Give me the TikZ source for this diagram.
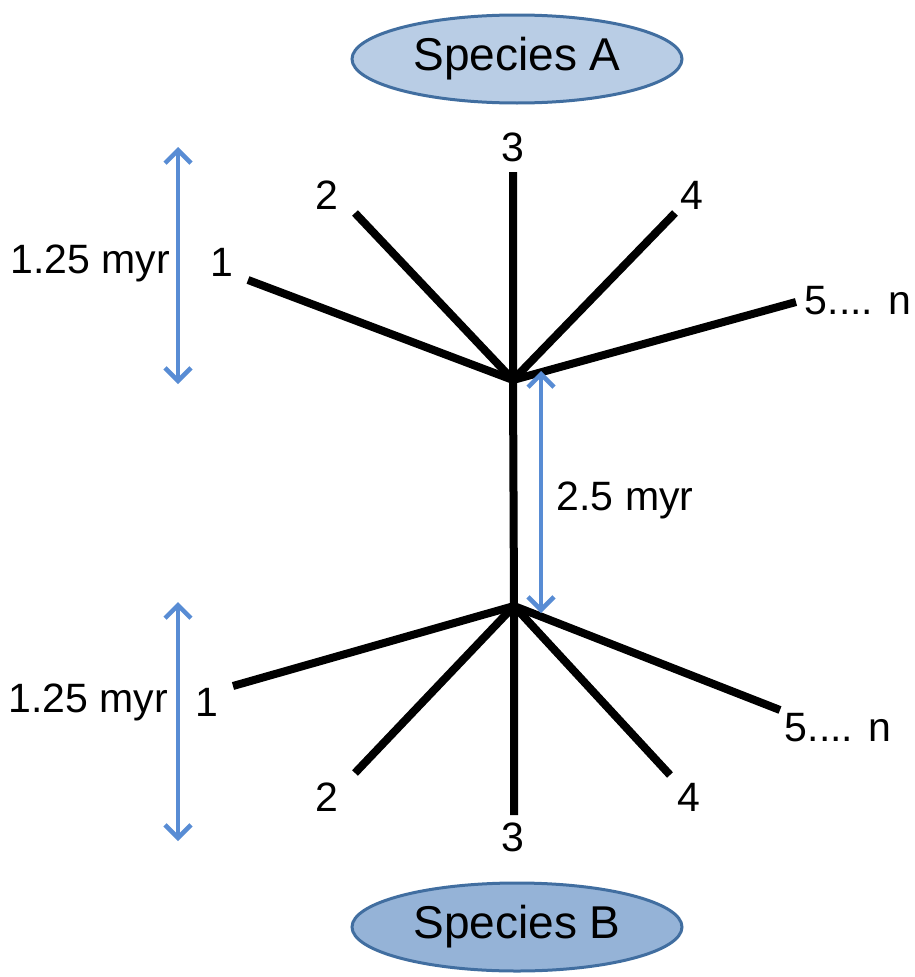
\documentclass[tikz,border=0pt]{standalone}
\usepackage{fontspec}
\setmainfont{Liberation Sans}
\usetikzlibrary{arrows.meta,shapes.geometric}
\definecolor{arrowblue}{RGB}{88,140,212}
\definecolor{fillA}{RGB}{185,205,229}
\definecolor{fillB}{RGB}{149,179,215}
\definecolor{edgeblue}{RGB}{65,110,160}
\tikzset{
  branch/.style={line width=8pt,black,line cap=butt},
  span/.style={line width=4.5pt,arrowblue,{Straight Barb[length=13pt,width=26pt,line width=4.5pt]}-{Straight Barb[length=13pt,width=26pt,line width=4.5pt]}},
  lbl/.style={inner sep=0pt,font=\fontsize{41pt}{45pt}\selectfont},
  species/.style={ellipse,draw=edgeblue,line width=3pt,minimum width=330pt,minimum height=88pt,inner sep=0pt,font=\fontsize{46pt}{50pt}\selectfont}
}
\begin{document}
\begin{tikzpicture}[x=1pt,y=-1pt]
\useasboundingbox (0,0) rectangle (914,977);
% species
\node[species,fill=fillA] (spA) at (517,59) {Species A};
\node[species,fill=fillB] (spB) at (517,927) {Species B};
% junctions
\coordinate (jA) at (513,380);
\coordinate (jB) at (514,606);
% upper tips
\coordinate (a1) at (248,280);
\coordinate (a2) at (355,213);
\coordinate (a3) at (513,172);
\coordinate (a4) at (675,213);
\coordinate (a5) at (796,302);
% lower tips
\coordinate (b1) at (233,686);
\coordinate (b2) at (355,773);
\coordinate (b3) at (514,815);
\coordinate (b4) at (670,775);
\coordinate (b5) at (780,710);
% branches
\draw[branch] (a1) -- (jA) -- (a5);
\draw[branch] (a2) -- (jA) -- (a4);
\draw[branch] (a3) -- (jA) -- (jB) -- (b3);
\draw[branch] (b1) -- (jB) -- (b5);
\draw[branch] (b2) -- (jB) -- (b4);
% tip labels
\node[lbl] (la1) at (222,262) {1};
\node[lbl] (la2) at (327,195) {2};
\node[lbl] (la3) at (513,147) {3};
\node[lbl] (la4) at (692,195) {4};
\node[lbl] (la5) at (858,301) {5.... n};
\node[lbl] (lb1) at (207,702) {1};
\node[lbl] (lb2) at (327,797) {2};
\node[lbl] (lb3) at (513,837) {3};
\node[lbl] (lb4) at (689,797) {4};
\node[lbl] (lb5) at (838,728) {5.... n};
% time spans
\coordinate (s1t) at (178,147);
\coordinate (s1b) at (178,384);
\coordinate (s2t) at (541,371);
\coordinate (s2b) at (541,613);
\coordinate (s3t) at (178,602);
\coordinate (s3b) at (178,841);
\draw[span] (s1t) -- (s1b);
\draw[span] (s2t) -- (s2b);
\draw[span] (s3t) -- (s3b);
\node[lbl] (t1) at (90,263) {1.25 myr};
\node[lbl] (t2) at (625,500) {2.5 myr};
\node[lbl] (t3) at (88,702) {1.25 myr};
\end{tikzpicture}
\end{document}
